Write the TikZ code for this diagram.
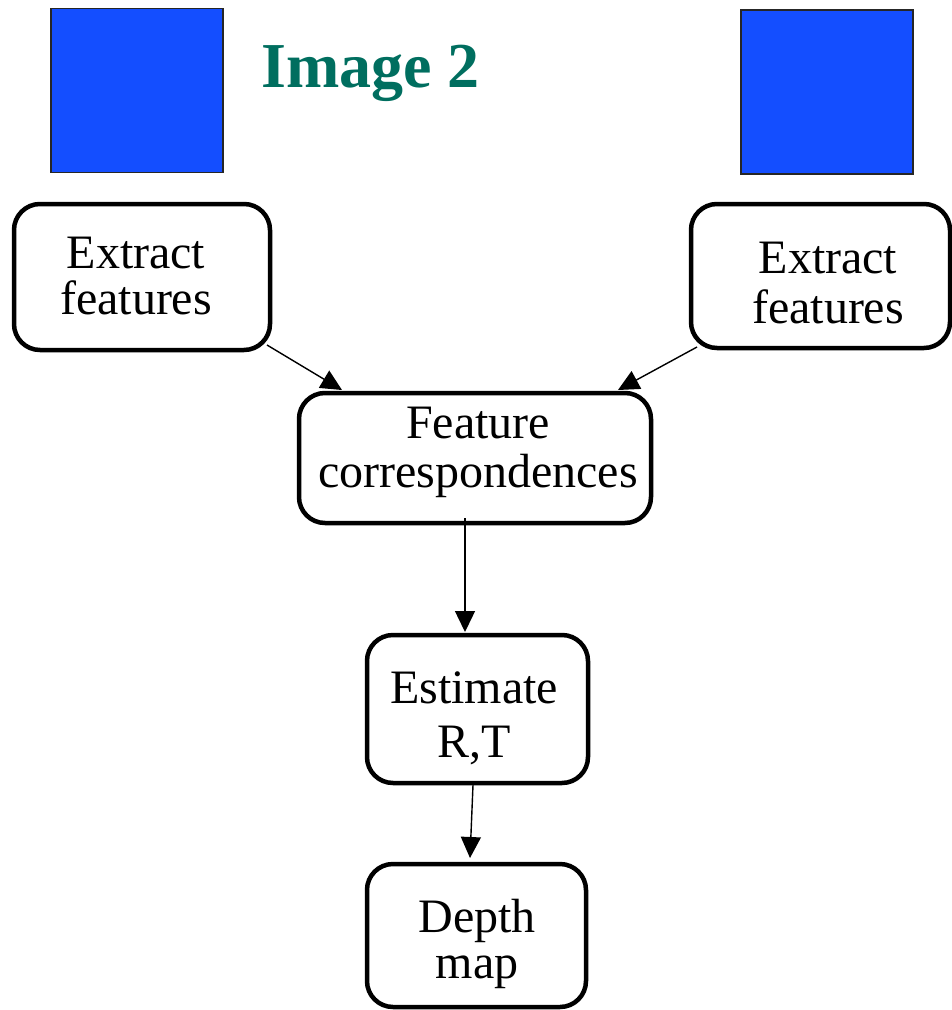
\documentclass[tikz,border=0pt]{standalone}
\usepackage{fontspec}
\setmainfont{Liberation Serif}
\usetikzlibrary{arrows.meta,calc}

\definecolor{imgblue}{RGB}{20,78,255}
\definecolor{titleteal}{RGB}{0,110,95}

\tikzset{
  stepbox/.style={draw=black, line width=4.5pt, rounded corners=26pt,
    rectangle, inner sep=0pt, outer sep=0pt, fill=white},
  imgsq/.style={draw=black!85, line width=1.6pt, fill=imgblue,
    rectangle, inner sep=0pt, outer sep=0pt},
  lbl/.style={align=center, inner sep=0pt, anchor=base,
    font=\fontsize{48}{#1}\selectfont},
  flow/.style={line width=1.4pt, -{Triangle[length=21pt,width=20pt]}},
}

\begin{document}
\begin{tikzpicture}[x=1pt, y=-1pt]
  \useasboundingbox (0,0) rectangle (952,1010);

  % the two input images
  \node[imgsq, minimum width=172pt, minimum height=164pt] (img1) at (137,90.5) {};
  \node[imgsq, minimum width=172pt, minimum height=164pt] (img2) at (827,92) {};
  \node[anchor=base west, inner sep=0pt, text=titleteal,
        font=\fontsize{64}{64}\selectfont\bfseries] (title) at (261,87) {Image 2};

  % processing steps
  \node[stepbox, minimum width=256pt, minimum height=146pt] (efL) at (142,277) {};
  \node[stepbox, minimum width=259pt, minimum height=144pt] (efR) at (820.5,276) {};
  \node[stepbox, minimum width=352pt, minimum height=130pt] (fc)  at (475,458) {};
  \node[stepbox, minimum width=221pt, minimum height=148pt] (est) at (477.5,709) {};
  \node[stepbox, minimum width=219pt, minimum height=143pt] (dep) at (476.5,935.5) {};

  % step labels (anchored at the baseline of the last line)
  \node[lbl=46] (tefL) at (136,314) {Extract\\features};
  \node[lbl=50] (tefR) at (828,323) {Extract\\features};
  \node[lbl=49] (tfc)  at (478,487) {Feature\\correspondences};
  \node[lbl=54] (test) at (474,757) {Estimate\\R,T};
  \node[lbl=46] (tdep) at (477,978) {Depth\\map};

  % connectors
  \draw[flow] ($(efL.south east)+(-3,-5)$) -- ($(fc.north west)+(43,-3)$);
  \draw[flow] ($(efR.south west)+(6,-1)$) -- ($(fc.north east)+(-33,-3)$);
  \draw[flow] ($(fc.south)+(-10,-5)$) -- ($(est.north)+(-12.5,-3)$);
  \draw[flow] ($(est.south)+(-4.5,2)$) -- ($(dep.north)+(-6.5,-6)$);
\end{tikzpicture}
\end{document}
